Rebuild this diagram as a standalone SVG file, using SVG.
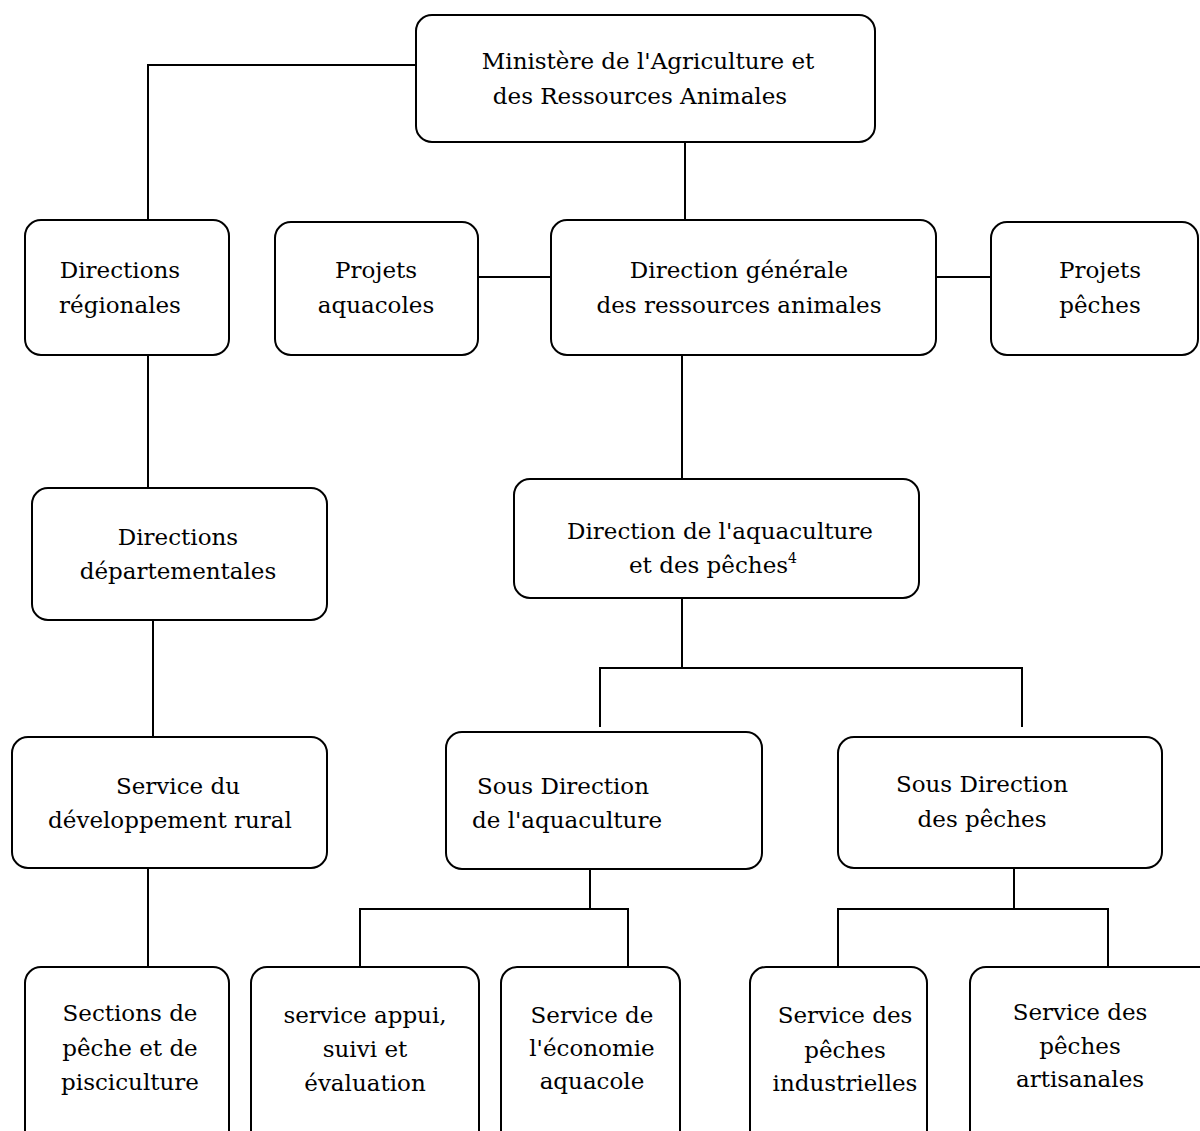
<svg xmlns="http://www.w3.org/2000/svg" width="1200" height="1131" viewBox="0 0 1200 1131">
<style>
.box{fill:#fff;stroke:#000;stroke-width:2}
.ln{fill:none;stroke:#000;stroke-width:2}
.t{font-family:'DejaVu Serif',serif;font-size:23px;fill:#000;text-anchor:middle}
</style>
<rect width="1200" height="1131" fill="#fff"/>
<g id="connectors">
<path class="ln" d="M416,65 H148 V220"/>
<path class="ln" d="M685,142 V220"/>
<path class="ln" d="M478,277 H551"/>
<path class="ln" d="M936,277 H991"/>
<path class="ln" d="M148,355 V488"/>
<path class="ln" d="M153,620 V737"/>
<path class="ln" d="M148,868 V967"/>
<path class="ln" d="M682,355 V479"/>
<path class="ln" d="M682,598 V668"/>
<path class="ln" d="M600,727 V668 H1022 V727"/>
<path class="ln" d="M590,869 V909"/>
<path class="ln" d="M360,967 V909 H628 V967"/>
<path class="ln" d="M1014,868 V909"/>
<path class="ln" d="M838,967 V909 H1108 V967"/>
</g>
<g id="n-ministere" class="t"><rect class="box" x="416" y="15" width="459" height="127" rx="16"/><text x="648" y="69">Ministère de l'Agriculture et</text><text x="640" y="104">des Ressources Animales</text></g>
<g id="n-dir-regionales" class="t"><rect class="box" x="25" y="220" width="204" height="135" rx="16"/><text x="120" y="278">Directions</text><text x="120" y="313">régionales</text></g>
<g id="n-projets-aquacoles" class="t"><rect class="box" x="275" y="222" width="203" height="133" rx="16"/><text x="376" y="278">Projets</text><text x="376" y="313">aquacoles</text></g>
<g id="n-dir-generale" class="t"><rect class="box" x="551" y="220" width="385" height="135" rx="16"/><text x="739" y="278">Direction générale</text><text x="739" y="313">des ressources animales</text></g>
<g id="n-projets-peches" class="t"><rect class="box" x="991" y="222" width="207" height="133" rx="16"/><text x="1100" y="278">Projets</text><text x="1100" y="313">pêches</text></g>
<g id="n-dir-departementales" class="t"><rect class="box" x="32" y="488" width="295" height="132" rx="16"/><text x="178" y="545">Directions</text><text x="178" y="579">départementales</text></g>
<g id="n-dir-aquaculture-peches" class="t"><rect class="box" x="514" y="479" width="405" height="119" rx="16"/><text x="720" y="539">Direction de l'aquaculture</text><text x="713" y="573">et des pêches<tspan font-size="14" dy="-10">4</tspan></text></g>
<g id="n-service-dev-rural" class="t"><rect class="box" x="12" y="737" width="315" height="131" rx="16"/><text x="178" y="794">Service du</text><text x="170" y="828">développement rural</text></g>
<g id="n-sous-dir-aquaculture" class="t"><rect class="box" x="446" y="732" width="316" height="137" rx="16"/><text x="563" y="794">Sous Direction</text><text x="567" y="828">de l'aquaculture</text></g>
<g id="n-sous-dir-peches" class="t"><rect class="box" x="838" y="737" width="324" height="131" rx="16"/><text x="982" y="792">Sous Direction</text><text x="982" y="827">des pêches</text></g>
<g id="n-sections" class="t"><rect class="box" x="25" y="967" width="204" height="180" rx="16"/><text x="130" y="1021">Sections de</text><text x="130" y="1056">pêche et de</text><text x="130" y="1090">pisciculture</text></g>
<g id="n-service-appui" class="t"><rect class="box" x="251" y="967" width="228" height="180" rx="16"/><text x="365" y="1023">service appui,</text><text x="365" y="1057">suivi et</text><text x="365" y="1091">évaluation</text></g>
<g id="n-service-economie" class="t"><rect class="box" x="501" y="967" width="179" height="180" rx="16"/><text x="592" y="1023">Service de</text><text x="592" y="1056">l'économie</text><text x="592" y="1089">aquacole</text></g>
<g id="n-service-industrielles" class="t"><rect class="box" x="750" y="967" width="177" height="180" rx="16"/><text x="845" y="1023">Service des</text><text x="845" y="1058">pêches</text><text x="845" y="1091">industrielles</text></g>
<g id="n-service-artisanales" class="t"><rect class="box" x="970" y="967" width="245" height="180" rx="16"/><text x="1080" y="1020">Service des</text><text x="1080" y="1054">pêches</text><text x="1080" y="1087">artisanales</text></g>
</svg>
